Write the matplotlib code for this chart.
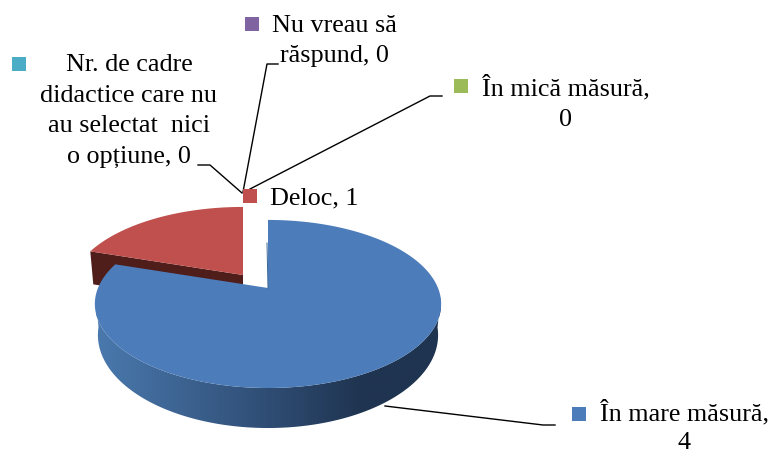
import numpy as np
from matplotlib import pyplot as plt
from matplotlib.colors import LinearSegmentedColormap
from matplotlib.patches import Polygon

plt.rcParams['font.family'] = ['Liberation Serif', 'DejaVu Serif']

categories = ['În mare măsură', 'Deloc', 'În mică măsură', 'Nu vreau să răspund',
              'Nr. de cadre didactice care nu au selectat  nici o opțiune']
values = [4, 1, 0, 0, 0]
colors = ['#4c7dba', '#c0504d', '#9bbb59', '#8064a2', '#4bacc6']

W, H = 771, 453
CX, CY = 268, 288     # apex of the pie
K = 0.19              # perspective
side_cmap = LinearSegmentedColormap.from_list(
    'side', [(0, '#4a79ae'), (0.5, '#2f4d74'), (0.77, '#1f3450'), (1, '#1f3450')])


def top(ang):
    u, v = np.sin(ang), -np.cos(ang)
    s = 1 / (1 - K * v)
    return CX + 170 * u * s, CY + 81 * v * s


def bottom(ang):
    u, v = np.sin(ang), -np.cos(ang)
    s = 1 / (1 - K * v)
    return CX + 167 * u * s, CY + 29.4 + 89.6 * v * s


fig = plt.figure(figsize=(W / 100, H / 100), dpi=100)
ax = fig.add_axes([0, 0, 1, 1])
ax.axis('off')

# slice angles, clockwise from 12 o'clock
fractions = np.array(values) / sum(values)
stops = np.concatenate(([0], np.cumsum(fractions))) * 2 * np.pi

# red slice, pulled out of the pie
red_dx, red_dy = -25, -13
a = np.linspace(stops[1], stops[2], 80)
x, y = top(a)
x0, y0 = top(stops[1])
ax.fill([CX + red_dx, x0 + red_dx, x0 + red_dx + 3, CX + red_dx],
        [CY + red_dy, y0 + red_dy, y0 + red_dy + 33, CY + red_dy + 33],
        color='#4f1d1a', lw=0)
ax.fill(np.r_[CX, x] + red_dx, np.r_[CY, y] + red_dy, color=colors[1], lw=0)

# blue slice, side wall first (front part only, the back is hidden by the top)
a = np.linspace(stops[0], stops[1], 300)
front = a[-np.cos(a) >= 0.1]
xt, yt = top(front)
xb, yb = bottom(front)
wall = Polygon(np.c_[np.r_[xt, xb[::-1]], np.r_[yt, yb[::-1]]], closed=True, fc='none', lw=0)
ax.add_patch(wall)
im = ax.imshow(np.linspace(0, 1, 256).reshape(1, -1), cmap=side_cmap, extent=(96, 441, 440, 290),
               aspect='auto', interpolation='bilinear')
im.set_clip_path(wall)
xt, yt = top(a)
ax.fill(np.r_[CX, xt], np.r_[CY, yt], color=colors[0], lw=0)
ax.plot([CX, CX - 1], [CY, CY - 45], color='#3a6394', lw=0.7)

# leader lines
ax.plot([198, 210, 242], [165, 165, 193], color='k', lw=1)
ax.plot([278, 267, 243], [64, 64, 192], color='k', lw=1)
ax.plot([442, 430, 250], [96, 96, 189], color='k', lw=1)
ax.plot([555, 543, 385], [425, 425, 406], color='k', lw=1)

# data labels
label_x = [684, 270, 566, 334, 129]
label_y = [427, 198, 103, 41, 111]
label_ha = ['center', 'left', 'center', 'center', 'center']
label_text = ['În mare măsură,\n{}', 'Deloc, {}', 'În mică măsură,\n{}', 'Nu vreau să\nrăspund, {}',
              'Nr. de cadre\ndidactice care nu\nau selectat  nici\no opțiune, {}']
label_spacing = [1.35, 1.49, 1.49, 1.49, 1.49]
key_x = [579, 250, 461, 252, 19]
key_y = [414, 196, 86, 24, 64]
for i in range(len(values)):
    ax.plot(key_x[i], key_y[i], 's', color=colors[i], ms=10, mew=0)
    ax.text(label_x[i], label_y[i], label_text[i].format(values[i]), ha=label_ha[i], va='center',
            ma='center', fontsize=18.8, linespacing=label_spacing[i], color='k')

ax.set_xlim(0, W)
ax.set_ylim(H, 0)
fig.savefig('out.png', dpi=100)
